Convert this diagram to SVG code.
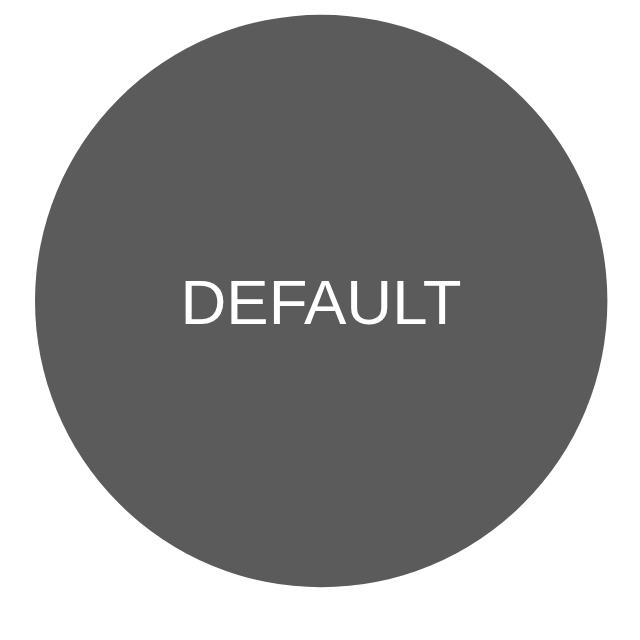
<svg xmlns="http://www.w3.org/2000/svg" width="640" height="640" viewBox="0 0 640 640">
<style>
.node{fill:#5b5b5b}
.label{font-family:"Liberation Sans",Arial,sans-serif;font-size:63.5px;fill:#ffffff;text-anchor:middle}
</style>
<rect width="640" height="640" fill="#ffffff"/>
<g id="node-default">
<circle class="node" cx="321.2" cy="301" r="286.2"/>
<text class="label" x="321" y="324">DEFAULT</text>
</g>
<g id="connectors"/>
</svg>
